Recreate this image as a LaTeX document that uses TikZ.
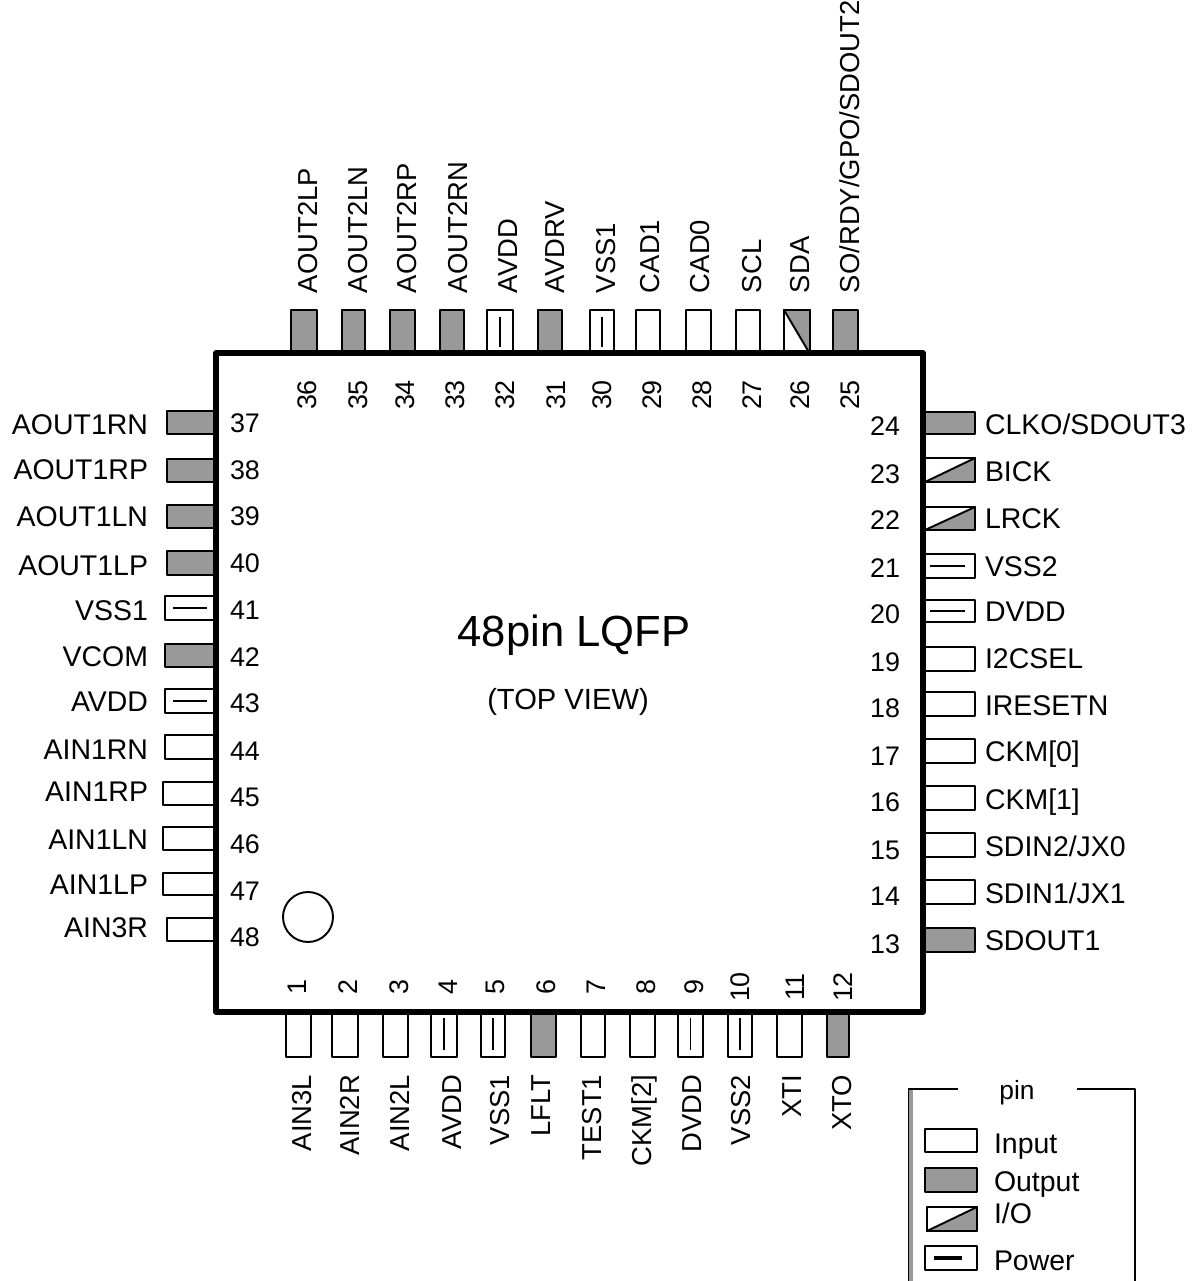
\documentclass[tikz,border=0pt]{standalone}
\usepackage{fontspec}
\setmainfont{Liberation Sans}
\definecolor{pingray}{gray}{0.6}
\tikzset{
	pinin/.style={draw, rectangle, inner sep=0, outer sep=0, line width=1.1pt, fill=white},
	pinout/.style={pinin, fill=pingray},
	pintext/.style={inner sep=0, outer sep=0, text height=11.2pt, text depth=0pt, font=\fontsize{15.6}{18}\selectfont},
	pinhtext/.style={pintext, font=\fontsize{16.2}{18}\selectfont},
	pinnum/.style={pintext, font=\fontsize{15.3}{18}\selectfont}
}
\begin{document}
\begin{tikzpicture}[x=0.02cm, y=-0.02cm, line width=1.1pt, line join=round]
	\useasboundingbox (0, 0) rectangle (1197, 1281);

	% top side
	\foreach \n/\a/\b/\k/\lx/\nx/\lab in {
		36/291/317/pinout/308/307/AOUT2LP, 35/342/365/pinout/358/358/AOUT2LN,
		34/390/415/pinout/407/405/AOUT2RP, 33/440/464/pinout/458/455/AOUT2RN,
		32/487/513/pinin/508/505/AVDD, 31/538/562/pinout/555/556/AVDRV,
		30/590/614/pinin/606/602/VSS1, 29/636/660/pinin/650/652/CAD1,
		28/686/711/pinin/700/702/CAD0, 27/736/760/pinin/752/752/SCL,
		26/784/810/pinin/800/800/SDA, 25/833/858/pinout/850/850/{SO/RDY/GPO/SDOUT2}} {
		\node[\k, minimum width={(\b-\a)*0.02cm}, minimum height=0.88cm] (pin\n) at ({(\a+\b)/2}, 332) {};
		\node[pintext, rotate=90, anchor=west] (lab\n) at (\lx, 293) {\lab};
		\node[pinnum, rotate=90] (num\n) at (\nx, 395) {\n};
	}

	% left side
	\foreach \n/\l/\a/\b/\k/\ly/\ny/\lab in {
		37/167/411/434/pinout/425/423/AOUT1RN, 38/167/459/482/pinout/470/470/AOUT1RP,
		39/167/505/528/pinout/517/516/AOUT1LN, 40/167/551/575/pinout/566/563/AOUT1LP,
		41/165/596/620/pinin/611/610/VSS1, 42/165/644/667/pinout/657/657/VCOM,
		43/165/689/713/pinin/702/703/AVDD, 44/165/735/759/pinin/750/751/AIN1RN,
		45/163/782/805/pinin/792/797/AIN1RP, 46/163/827/850/pinin/840/844/AIN1LN,
		47/163/873/895/pinin/885/891/AIN1LP, 48/167/918/941/pinin/928/937/AIN3R} {
		\node[\k, minimum width={(216-\l)*0.02cm}, minimum height={(\b-\a)*0.02cm}] (pin\n) at ({(\l+216)/2}, {(\a+\b)/2}) {};
		\node[pinhtext, anchor=east] (lab\n) at (148, \ly) {\lab};
		\node[pinnum] (num\n) at (245, \ny) {\n};
	}

	% right side
	\foreach \n/\a/\b/\k/\ly/\ny/\lab in {
		24/412/434/pinout/425/426/{CLKO/SDOUT3}, 23/458/482/pinin/472/474/BICK,
		22/507/530/pinin/519/520/LRCK, 21/554/578/pinin/567/568/VSS2,
		20/600/622/pinin/612/614/DVDD, 19/647/671/pinin/659/662/I2CSEL,
		18/692/716/pinin/706/708/IRESETN, 17/739/763/pinin/752/756/{CKM[0]},
		16/786/810/pinin/800/802/{CKM[1]}, 15/833/857/pinin/847/850/{SDIN2/JX0},
		14/880/904/pinin/894/896/{SDIN1/JX1}, 13/928/952/pinout/941/944/SDOUT1} {
		\node[\k, minimum width=1cm, minimum height={(\b-\a)*0.02cm}] (pin\n) at (950, {(\a+\b)/2}) {};
		\node[pinhtext, anchor=west] (lab\n) at (985, \ly) {\lab};
		\node[pinnum] (num\n) at (885, \ny) {\n};
	}

	% bottom side
	\foreach \n/\a/\b/\k/\lx/\nx/\lab in {
		1/286/311/pinin/302/297/AIN3L, 2/332/358/pinin/350/348/AIN2R,
		3/383/408/pinin/400/399/AIN2L, 4/431/457/pinin/452/448/AVDD,
		5/481/505/pinin/500/495/VSS1, 6/531/556/pinout/541/546/LFLT,
		7/581/605/pinin/592/596/TEST1, 8/630/655/pinin/642/646/{CKM[2]},
		9/678/703/pinin/692/694/DVDD, 10/728/752/pinin/741/740/VSS2,
		11/777/802/pinin/792/795/XTI, 12/827/849/pinout/842/843/XTO} {
		\node[\k, minimum width={(\b-\a)*0.02cm}, minimum height=0.92cm] (pin\n) at ({(\a+\b)/2}, 1034) {};
		\node[pintext, rotate=90, anchor=east] (lab\n) at (\lx, 1075) {\lab};
		\node[pinnum, rotate=90] (num\n) at (\nx, 987) {\n};
	}

	% power and i/o pins
	\foreach \n in {32, 30, 4, 5, 9, 10}
		\draw ([yshift=-0.14cm]pin\n.north) -- ([yshift=0.14cm]pin\n.south);
	\foreach \n in {41, 43}
		\draw ([xshift=0.16cm]pin\n.west) -- ([xshift=-0.18cm]pin\n.east);
	\foreach \n in {21, 20}
		\draw ([xshift=0.1cm]pin\n.west) -- ([xshift=-0.2cm]pin\n.east);
	\draw[fill=pingray] (pin26.north west) -- (pin26.north east) -- (pin26.south east) -- cycle;
	\foreach \n in {23, 22}
		\draw[fill=pingray] (pin\n.south west) -- (pin\n.north east) -- (pin\n.south east) -- cycle;

	% package
	\node[draw, rectangle, line width=3.1pt, inner sep=0, minimum width=14.14cm, minimum height=13.18cm] (chip) at (569.5, 682.5) {};
	\node[draw, circle, inner sep=0, minimum size=1cm] (mark) at (308, 917) {};
	\node[inner sep=0, font=\fontsize{24.8}{28}\selectfont] (title) at (574, 635) {48pin LQFP};
	\node[inner sep=0, font=\fontsize{16.6}{20}\selectfont] (view) at (568, 702) {(TOP VIEW)};

	% legend
	\coordinate (frameA) at (958, 1089);
	\coordinate (frameB) at (908.5, 1089);
	\coordinate (frameC) at (908.5, 1281);
	\coordinate (frameD) at (1077, 1089);
	\coordinate (frameE) at (1135, 1089);
	\coordinate (frameF) at (1135, 1281);
	\draw[pingray, line width=2pt] ([xshift=0.05cm]frameB) -- ([xshift=0.05cm]frameC);
	\draw (frameA) -- (frameB) -- (frameC);
	\draw (frameD) -- (frameE) -- (frameF);
	\node[pintext, font=\fontsize{15}{18}\selectfont] (legtitle) at (1017, 1090) {pin};
	\node[pinin, minimum width=1.04cm, minimum height=0.46cm] (legin) at (951, 1140.5) {};
	\node[pinout, minimum width=1.04cm, minimum height=0.48cm] (legout) at (951, 1180) {};
	\node[pinin, minimum width=1cm, minimum height=0.48cm] (legio) at (952, 1219) {};
	\draw[fill=pingray] (legio.south west) -- (legio.north east) -- (legio.south east) -- cycle;
	\node[pinin, minimum width=1.04cm, minimum height=0.48cm] (legpow) at (951, 1258) {};
	\draw[line width=2pt] ([xshift=0.18cm]legpow.west) -- ([xshift=-0.3cm]legpow.east);
	\node[pinhtext, anchor=west] (txtin) at (994, 1144) {Input};
	\node[pinhtext, anchor=west] (txtout) at (994, 1182) {Output};
	\node[pinhtext, anchor=west] (txtio) at (994, 1214) {I/O};
	\node[pinhtext, anchor=west] (txtpow) at (994, 1261) {Power};
\end{tikzpicture}
\end{document}
